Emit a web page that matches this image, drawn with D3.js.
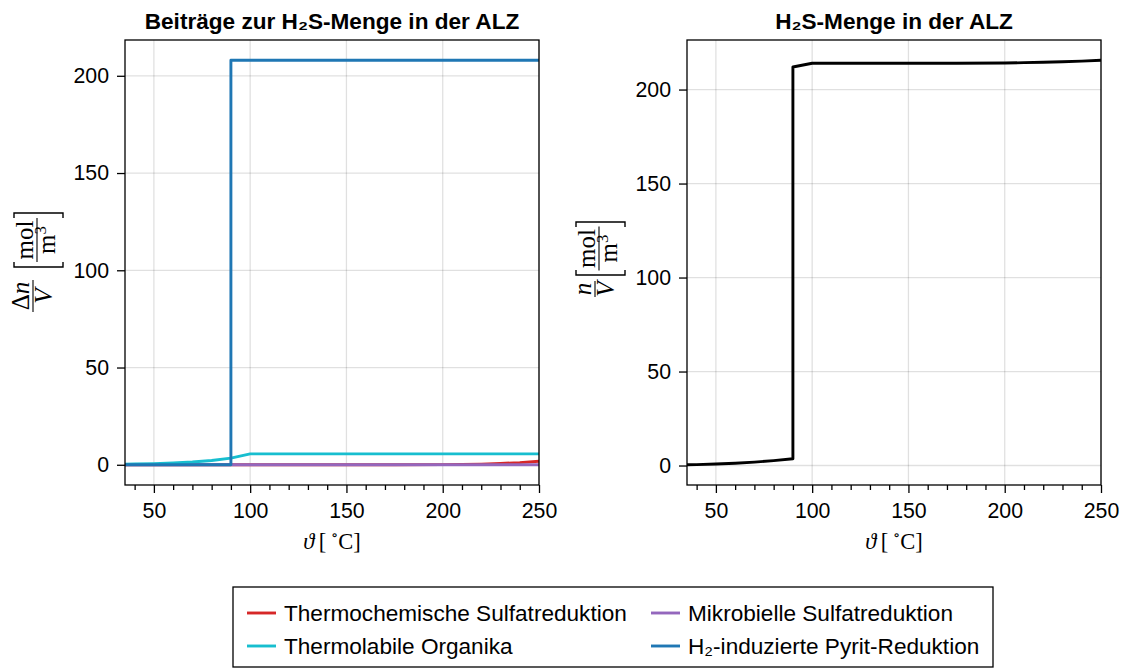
<!DOCTYPE html>
<html>
<head>
<meta charset="utf-8">
<script src="https://cdn.jsdelivr.net/npm/d3@7"></script>
<style>
  body { margin: 0; background: #fff; }
  text { font-family: "Liberation Sans", Arial, sans-serif; fill: #000; }
  .math { font-family: "Liberation Serif", "DejaVu Serif", serif; }
</style>
</head>
<body>
<svg id="chart" width="1128" height="668"></svg>
<script>
// ---- data ----
var temps        = [35, 40, 50, 60, 70, 80, 90, 90, 100, 125, 150, 175, 200, 210, 220, 230, 240, 250];
var thermochem   = [0, 0, 0, 0, 0, 0, 0, 0, 0, 0, 0, 0.02, 0.08, 0.18, 0.35, 0.65, 1.1, 1.8];
var mikrobiell   = [0, 0, 0, 0, 0, 0, 0, 0, 0, 0, 0, 0, 0, 0, 0, 0, 0, 0];
var thermolabil  = [0.3, 0.4, 0.6, 0.9, 1.4, 2.2, 3.4, 3.4, 5.6, 5.6, 5.6, 5.6, 5.6, 5.6, 5.6, 5.6, 5.6, 5.6];
var pyrit        = [0, 0, 0, 0, 0, 0, 0, 208, 208, 208, 208, 208, 208, 208, 208, 208, 208, 208];
var gesamt       = [0.4, 0.5, 0.8, 1.2, 1.8, 2.6, 3.6, 212, 214, 214, 214, 214, 214.1, 214.3, 214.5, 214.8, 215.1, 215.6];

var seriesNames  = ['Thermochemische Sulfatreduktion', 'Mikrobielle Sulfatreduktion',
                    'Thermolabile Organika', 'H\u2082-induzierte Pyrit-Reduktion'];
var seriesColors = ['#d62728', '#9467bd', '#17becf', '#1f77b4'];
var xTicks = [50, 100, 150, 200, 250];
var yTicks = [0, 50, 100, 150, 200];
var xMinor = d3.range(40, 251, 10).filter(function(v) { return v % 50 != 0; });

var svg = d3.select('#chart');
var fs = 21.3;      // tick labels
var fsText = 22.6;  // title + legend
var fsMath = 25;

function drawPanel(x0, x1, lines, title) {
    var y0 = 40, y1 = 485;
    var allY = [].concat.apply([], lines.map(function(l) { return l.values; }));
    var ext = d3.extent(allY);
    var pad = (ext[1] - ext[0]) * 0.05;
    var x = d3.scaleLinear([35, 250], [x0, x1]);
    var y = d3.scaleLinear([ext[0] - pad, ext[1] + pad], [y1, y0]);
    var g = svg.append('g');

    // grid
    g.selectAll('line.gx').data(xTicks).enter().append('line')
        .attr('x1', function(d) { return x(d); }).attr('x2', function(d) { return x(d); })
        .attr('y1', y0).attr('y2', y1)
        .attr('stroke', 'rgba(0,0,0,0.12)').attr('stroke-width', 1.3);
    g.selectAll('line.gy').data(yTicks).enter().append('line')
        .attr('y1', function(d) { return y(d); }).attr('y2', function(d) { return y(d); })
        .attr('x1', x0).attr('x2', x1)
        .attr('stroke', 'rgba(0,0,0,0.12)').attr('stroke-width', 1.3);

    // lines
    var clipId = 'clip' + x0;
    svg.append('clipPath').attr('id', clipId).append('rect')
        .attr('x', x0).attr('y', y0).attr('width', x1 - x0).attr('height', y1 - y0);
    var line = d3.line().x(function(d) { return x(d[0]); }).y(function(d) { return y(d[1]); });
    lines.forEach(function(l) {
        g.append('path')
            .attr('clip-path', 'url(#' + clipId + ')')
            .attr('d', line(d3.zip(temps, l.values)))
            .attr('fill', 'none').attr('stroke', l.color).attr('stroke-width', 2.9)
            .attr('stroke-linejoin', 'round');
    });

    // frame
    g.append('rect').attr('x', x0).attr('y', y0).attr('width', x1 - x0).attr('height', y1 - y0)
        .attr('fill', 'none').attr('stroke', '#000').attr('stroke-width', 1.3);

    // axes
    var ax = g.append('g').attr('transform', 'translate(0,' + y1 + ')')
        .call(d3.axisBottom(x).tickValues(xTicks).tickSize(8).tickSizeOuter(0).tickPadding(10));
    g.append('g').attr('transform', 'translate(0,' + y1 + ')')
        .call(d3.axisBottom(x).tickValues(xMinor).tickSize(5).tickSizeOuter(0).tickFormat(''))
        .select('.domain').remove();
    var ay = g.append('g').attr('transform', 'translate(' + x0 + ',0)')
        .call(d3.axisLeft(y).tickValues(yTicks).tickSize(8).tickSizeOuter(0).tickPadding(8));
    ax.select('.domain').remove();
    ay.select('.domain').remove();
    g.selectAll('.tick line').attr('stroke', '#000').attr('stroke-width', 1.3);
    g.selectAll('.tick text').attr('font-size', fs)
        .attr('font-family', '"Liberation Sans", Arial, sans-serif');

    // title
    g.append('text').attr('x', (x0 + x1) / 2).attr('y', 29)
        .attr('text-anchor', 'middle').attr('font-weight', 'bold').attr('font-size', fsText)
        .text(title);

    // x label
    var xl = g.append('text').attr('class', 'math').attr('x', (x0 + x1) / 2).attr('y', 549)
        .attr('text-anchor', 'middle').attr('font-size', 22.5);
    xl.append('tspan').attr('font-style', 'italic').text('\u03d1');
    xl.append('tspan').text('\u2009[\u2009');
    xl.append('tspan').attr('font-size', 15).attr('dy', -9).text('\u2218');
    xl.append('tspan').attr('dy', 9).text('C]');
}

// y label built from LaTeX-like pieces: num/den [ mol / m^3 ]
// group coords: gx runs up the page, gy runs to the right
function drawYLabel(cx, cy, numParts, outerC, outerW, bracketL, bracketR) {
    var g = svg.append('g').attr('transform', 'translate(' + cx + ',' + cy + ') rotate(-90)');
    var num = g.append('text').attr('class', 'math').attr('x', outerC).attr('y', -4)
        .attr('text-anchor', 'middle').attr('font-size', fsMath);
    numParts.forEach(function(p) {
        num.append('tspan').attr('font-style', p.italic ? 'italic' : 'normal').text(p.t);
    });
    g.append('line').attr('x1', outerC - outerW / 2).attr('x2', outerC + outerW / 2).attr('y1', 0).attr('y2', 0)
        .attr('stroke', '#000').attr('stroke-width', 1.1);
    g.append('text').attr('class', 'math').attr('x', outerC).attr('y', 19)
        .attr('text-anchor', 'middle').attr('font-size', fsMath).attr('font-style', 'italic').text('V');

    // brackets
    var bt = -19, bb = 30;
    g.append('path').attr('d', 'M' + (bracketL + 5) + ',' + bt + 'H' + bracketL + 'V' + bb + 'H' + (bracketL + 5))
        .attr('fill', 'none').attr('stroke', '#000').attr('stroke-width', 1.4);
    g.append('path').attr('d', 'M' + (bracketR - 5) + ',' + bt + 'H' + bracketR + 'V' + bb + 'H' + (bracketR - 5))
        .attr('fill', 'none').attr('stroke', '#000').attr('stroke-width', 1.4);

    var ic = (bracketL + bracketR) / 2;
    g.append('text').attr('class', 'math').attr('x', ic).attr('y', 0)
        .attr('text-anchor', 'middle').attr('font-size', fsMath).text('mol');
    g.append('line').attr('x1', ic - 22).attr('x2', ic + 22).attr('y1', 4).attr('y2', 4)
        .attr('stroke', '#000').attr('stroke-width', 1.1);
    var den = g.append('text').attr('class', 'math').attr('x', ic).attr('y', 22)
        .attr('text-anchor', 'middle').attr('font-size', fsMath);
    den.append('tspan').text('m');
    den.append('tspan').attr('font-size', 17).attr('dy', -9).text('3');
}

var leftLines = [thermochem, mikrobiell, thermolabil, pyrit].map(function(v, i) {
    return {values: v, color: seriesColors[i]};
});
drawPanel(125, 539, leftLines, 'Beiträge zur H\u2082S-Menge in der ALZ');
drawPanel(687, 1101, [{values: gesamt, color: '#000'}], 'H\u2082S-Menge in der ALZ');

drawYLabel(33, 266, [{t: '\u0394', italic: false}, {t: 'n', italic: true}], -30, 32, -1, 53);
drawYLabel(595, 266, [{t: 'n', italic: true}], -23, 16, -9, 44);

// legend
var leg = svg.append('g');
leg.append('rect').attr('x', 233).attr('y', 587).attr('width', 760).attr('height', 80)
    .attr('fill', '#fff').attr('stroke', '#000').attr('stroke-width', 1.3);
var legPos = [[247, 613], [651, 613], [247, 646], [651, 646]];
seriesNames.forEach(function(name, i) {
    var p = legPos[i];
    leg.append('line').attr('x1', p[0]).attr('x2', p[0] + 29).attr('y1', p[1]).attr('y2', p[1])
        .attr('stroke', seriesColors[i]).attr('stroke-width', 2.9);
    leg.append('text').attr('x', p[0] + 37).attr('y', p[1] + 8).attr('font-size', fsText).text(name);
});
</script>
</body>
</html>
